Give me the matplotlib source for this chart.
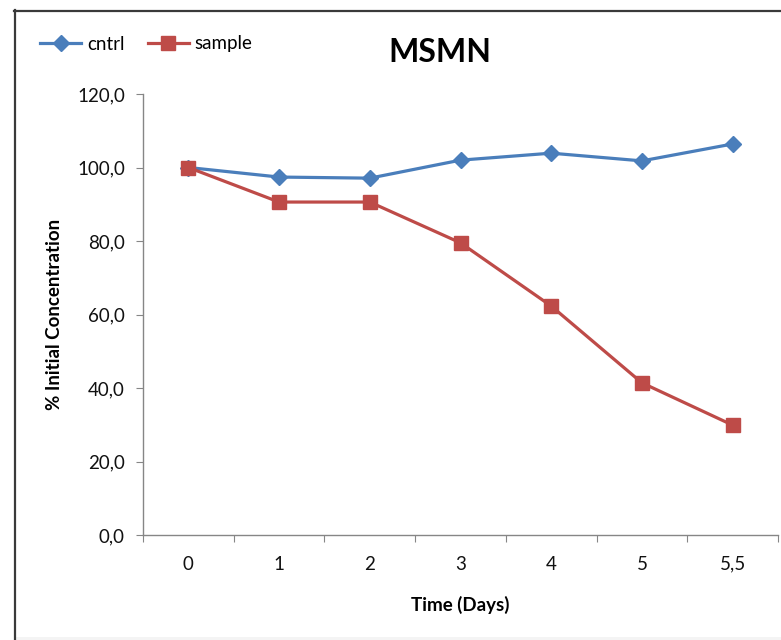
import matplotlib
matplotlib.use("Agg")
import matplotlib.pyplot as plt
from matplotlib.lines import Line2D
from matplotlib.patches import Rectangle

plt.rcParams['font.family'] = ['Lato', 'DejaVu Sans']

days = ["0", "1", "2", "3", "4", "5", "5,5"]
cntrl = [100.0, 97.4, 97.1, 102.0, 103.9, 101.8, 106.4]
sample = [100.0, 90.6, 90.6, 79.5, 62.3, 41.4, 29.9]
y_ticks = [0, 20, 40, 60, 80, 100, 120]

W, H = 781, 640
fig = plt.figure(figsize=(W / 100, H / 100), dpi=100)
fig.patch.set_facecolor("white")

# outer chart frame (left and top edges visible)
fig.add_artist(Line2D([14.5 / W, 14.5 / W], [0, 1 - 10 / H], color="#3a3a3a", lw=1.6,
                      transform=fig.transFigure))
fig.add_artist(Line2D([14 / W, 1], [1 - 10.5 / H, 1 - 10.5 / H], color="#3a3a3a", lw=1.6,
                      transform=fig.transFigure))
fig.add_artist(Rectangle((15 / W, 0), 1, 3 / H, facecolor="#f4f4f4", edgecolor="none",
                         transform=fig.transFigure))

left, right, bottom, top = 143, 778, 535, 94
ax = fig.add_axes([left / W, 1 - bottom / H, (right - left) / W, (bottom - top) / H])

x = list(range(len(days)))
blue = "#4A7EBB"
red = "#BE4B48"
ax.plot(x, cntrl, color=blue, lw=2.3, marker="D", markersize=8, markeredgecolor=blue,
        markerfacecolor=blue, label="cntrl", zorder=3)
ax.plot(x, sample, color=red, lw=2.3, marker="s", markersize=10, markeredgecolor=red,
        markerfacecolor=red, label="sample", zorder=3)

ax.set_xlim(-0.5, len(days) - 0.5)
ax.set_ylim(0, 120)

for s in ["top", "right"]:
    ax.spines[s].set_visible(False)
for s in ["left", "bottom"]:
    ax.spines[s].set_color("#868686")
    ax.spines[s].set_linewidth(1.0)

fs = 13.5
ax.set_yticks(y_ticks)
ax.set_yticklabels([f"{v:.1f}".replace(".", ",") for v in y_ticks], fontsize=fs,
                   color="#111111")
ax.tick_params(axis="y", direction="out", length=5, color="#868686", pad=8)

ax.set_xticks([i - 0.5 for i in range(len(days) + 1)])
ax.set_xticklabels([])
ax.tick_params(axis="x", which="major", direction="out", length=5, color="#868686")
ax.set_xticks(x, minor=True)
ax.set_xticklabels(days, minor=True, fontsize=fs, color="#111111")
ax.tick_params(axis="x", which="minor", length=0, pad=15)

ax.set_xlabel("Time (Days)", fontsize=13.5, fontweight="bold")
ax.set_ylabel("% Initial Concentration", fontsize=13.5, fontweight="bold")
ax.xaxis.set_label_coords((460 - left) / (right - left), -(605 - bottom) / (bottom - top))
ax.yaxis.set_label_coords(-(143 - 55) / (right - left), 0.5)
ax.xaxis.label.set_va("center")
ax.yaxis.label.set_va("center")

fig.text(440 / W, 1 - 53 / H, "MSMN", fontsize=23, fontweight="bold", ha="center",
         va="center")

leg = fig.legend(handles=ax.get_lines(), loc="center left",
                 bbox_to_anchor=(40 / W, 1 - 44 / H), ncol=2, frameon=False,
                 fontsize=fs, handlelength=2.2, handletextpad=0.3, columnspacing=1.25,
                 borderaxespad=0, borderpad=0)

fig.savefig("out.png", dpi=100, facecolor="white")
